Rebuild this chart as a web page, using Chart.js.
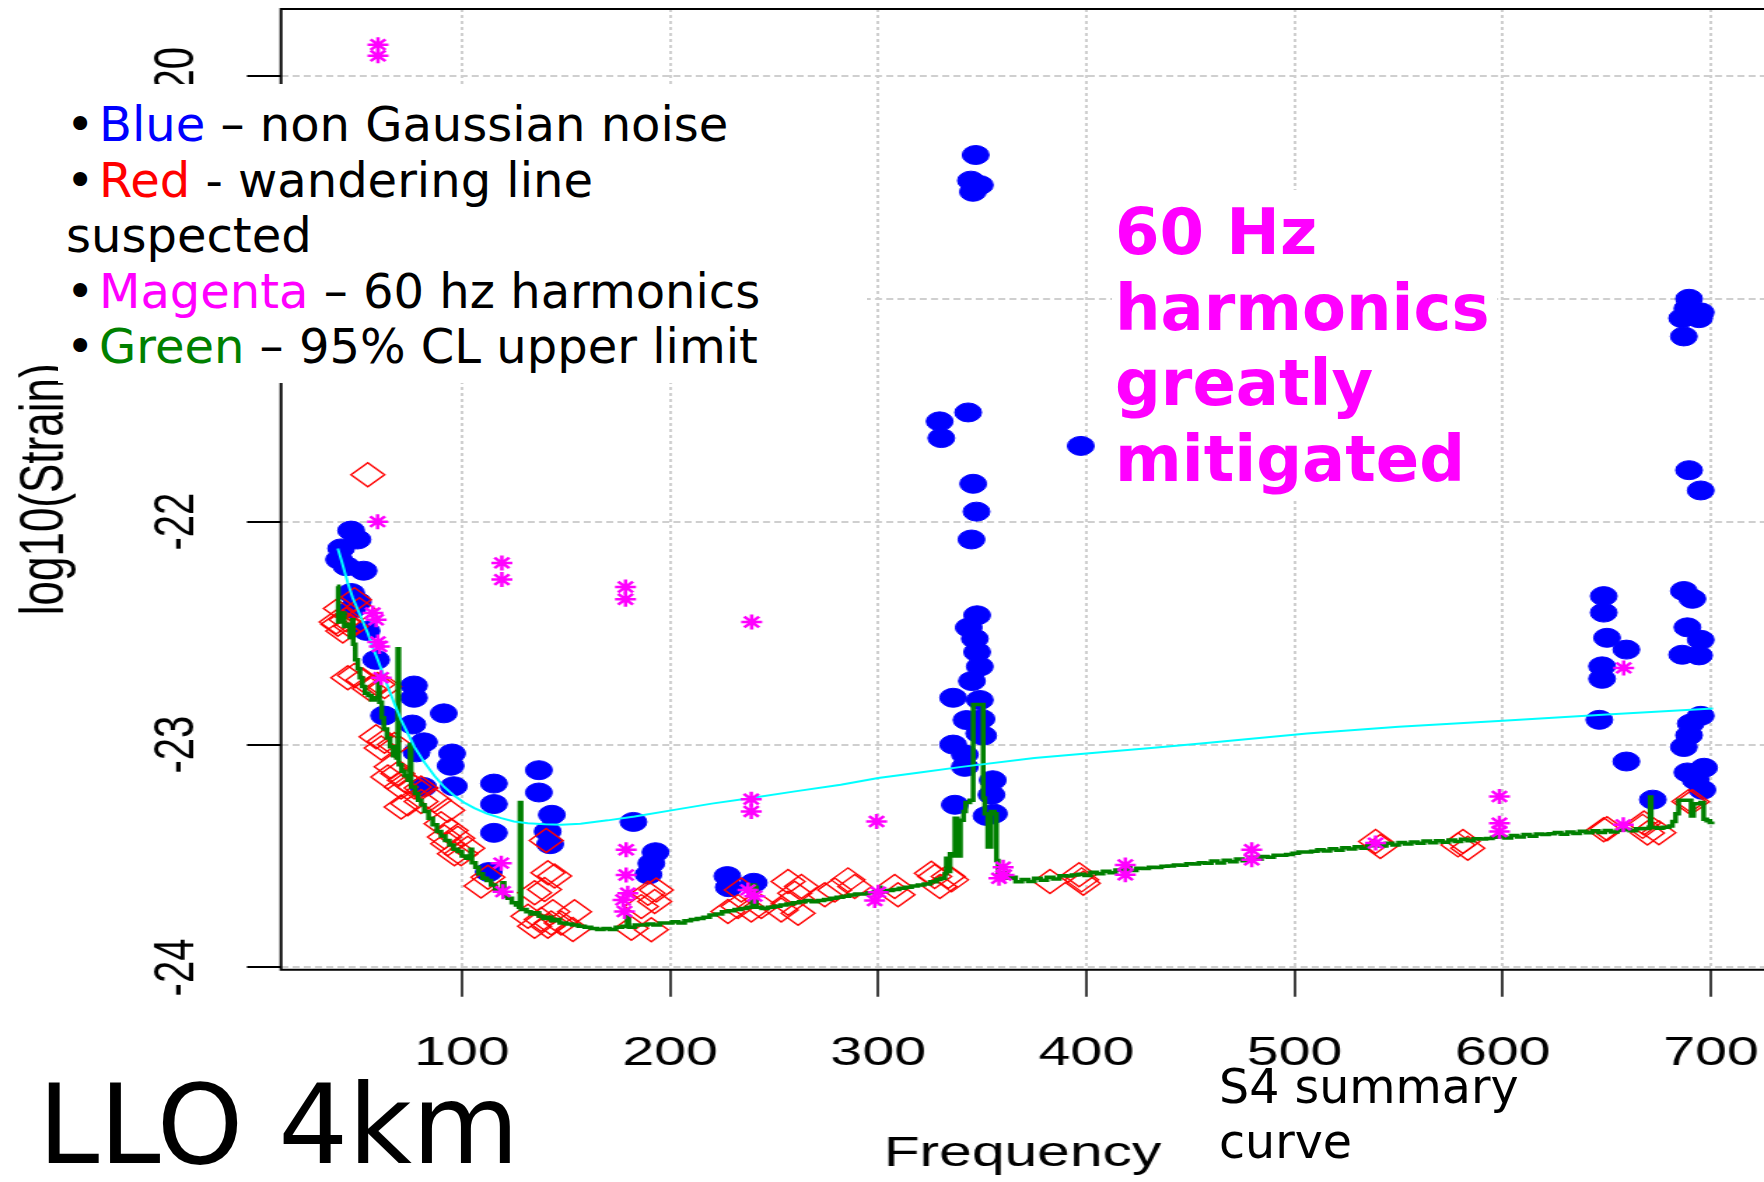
<!DOCTYPE html>
<html>
<head>
<meta charset="utf-8">
<script src="https://cdn.jsdelivr.net/npm/chart.js@4.4.1/dist/chart.umd.min.js"></script>
<style>
    html, body { margin: 0; padding: 0; background: #fff; }
    body { position: relative; width: 1764px; height: 1182px; overflow: hidden; font-family: "DejaVu Sans", sans-serif; }
    /* the R plot looks stretched sideways, so the canvas is drawn narrow and scaled */
    #wrap { position: absolute; left: 0; top: 0; width: 1260px; height: 1182px; transform: scaleX(1.4); transform-origin: 0 0; }
    .nota { position: absolute; background: #fff; box-sizing: border-box; white-space: nowrap; }
    #legenda { left: 58px; top: 84px; width: 809px; height: 299px; padding: 13px 0 0 8px; font-size: 48px; line-height: 55.5px; color: #000; }
    #legenda .b { display: inline-block; width: 33px; }
    #hz60 { left: 1112px; top: 190px; width: 385px; height: 309px; padding: 5px 0 0 3px; font-size: 64px; line-height: 75.5px; font-weight: bold; color: #ff00ff; }
    #llo { position: absolute; left: 38px; top: 1070px; font-size: 110px; line-height: 110px; color: #000; }
    #s4 { position: absolute; left: 1219px; top: 1059px; font-size: 47.5px; line-height: 55px; color: #000; }
</style>
</head>
<body>
<div id="wrap"><canvas id="grafico" width="1260" height="1182"></canvas></div>

<div id="legenda" class="nota">
    <div><span class="b">•</span><span style="color:#0000ff">Blue</span> – non Gaussian noise</div>
    <div><span class="b">•</span><span style="color:#ff0000">Red</span> - wandering line</div>
    <div>suspected</div>
    <div><span class="b">•</span><span style="color:#ff00ff">Magenta</span> – 60 hz harmonics</div>
    <div><span class="b">•</span><span style="color:#008000">Green</span> – 95% CL upper limit</div>
</div>
<div id="hz60" class="nota">60 Hz<br>harmonics<br>greatly<br>mitigated</div>
<div id="llo">LLO 4km</div>
<div id="s4">S4 summary<br>curve</div>

<script>
// ==========================================
// LLO 4km - S4 summary curve
// ==========================================

const xTicks = [100, 200, 300, 400, 500, 600, 700];
const yTicks = [-24, -23, -22, -21, -20];

// [Hz, log10(strain)]
const nonGaussian = [
    [46.8, -22.04], [49.8, -22.08], [42.0, -22.12], [41.0, -22.17], [44.5, -22.20], [52.8, -22.22],
    [46.8, -22.32], [50.0, -22.36], [47.5, -22.39], [54.2, -22.49], [58.8, -22.62], [62.6, -22.87],
    [77.0, -22.735], [77.0, -22.79], [76.2, -22.91], [81.8, -22.99], [78.2, -23.035], [81.4, -23.19],
    [91.3, -22.86], [95.3, -23.04], [94.6, -23.095], [96.1, -23.187],
    [115.4, -23.175], [115.4, -23.267], [115.4, -23.396], [112.9, -23.572],
    [137.0, -23.115], [137.0, -23.215], [143.2, -23.315], [141.2, -23.39], [142.4, -23.447],
    [182.4, -23.347], [193.0, -23.483], [191.0, -23.533], [189.6, -23.583],
    [227.5, -23.59], [228.2, -23.64], [240.2, -23.62],
    [346.8, -20.355], [344.5, -20.47], [348.8, -20.49], [345.5, -20.52],
    [329.5, -21.55], [330.3, -21.625], [343.2, -21.51],
    [345.6, -21.83], [347.2, -21.955], [344.8, -22.08], [397.3, -21.66],
    [347.5, -22.42], [343.5, -22.475], [346.4, -22.525], [347.5, -22.585], [348.8, -22.65], [345.0, -22.715],
    [336.0, -22.79], [348.8, -22.80], [342.4, -22.89], [349.6, -22.885], [336.0, -23.0], [350.4, -22.96],
    [348.5, -22.95], [341.6, -23.045], [341.6, -23.1], [355.0, -23.16], [354.4, -23.225], [336.8, -23.27],
    [352.0, -23.32], [355.6, -23.31],
    [689.5, -21.0], [688.7, -21.044], [695.1, -21.061], [694.3, -21.087], [686.2, -21.087], [687.0, -21.169],
    [689.5, -21.769], [695.1, -21.86],
    [648.5, -22.334], [648.5, -22.408], [650.1, -22.521], [659.4, -22.574], [647.7, -22.649], [647.7, -22.705],
    [646.4, -22.889], [659.4, -23.076], [672.1, -23.247],
    [687.0, -22.311], [691.1, -22.346], [688.7, -22.474], [695.1, -22.53], [686.2, -22.597], [694.3, -22.6],
    [695.1, -22.871], [690.3, -22.906], [689.5, -22.958], [687.0, -23.011], [688.7, -23.125], [696.7, -23.104],
    [692.7, -23.16], [695.9, -23.203]
];

const wanderingLines = [
    [54.8, -21.79],
    [41.6, -22.39], [48.4, -22.35], [50.8, -22.395], [40.4, -22.46], [44.4, -22.44], [42.8, -22.49], [46.8, -22.47], [39.6, -22.45],
    [48.4, -22.69], [52.4, -22.71], [45.2, -22.70], [59.6, -22.73], [62.8, -22.74], [55.6, -22.75],
    [58.8, -22.965], [62.8, -22.985], [61.2, -23.015], [67.6, -23.0],
    [66.0, -23.10], [69.2, -23.13], [64.4, -23.145], [72.4, -23.16], [77.2, -23.19], [70.8, -23.19], [80.4, -23.195],
    [74.0, -23.265], [80.4, -23.255], [70.8, -23.28],
    [86.8, -23.25], [93.2, -23.295], [90.0, -23.355], [94.8, -23.385], [98.0, -23.42], [93.2, -23.445],
    [99.6, -23.49], [102.8, -23.465], [91.6, -23.415], [96.4, -23.49],
    [109.2, -23.635], [112.5, -23.595],
    [131.7, -23.77], [134.9, -23.815], [138.1, -23.785], [141.3, -23.815], [140.5, -23.43], [141.3, -23.575], [134.9, -23.665],
    [144.5, -23.59], [139.7, -23.65], [143.7, -23.75], [147.7, -23.80], [154.1, -23.75], [153.3, -23.83], [142.9, -23.80],
    [189.4, -23.667], [193.4, -23.652], [192.6, -23.704], [186.2, -23.727], [191.0, -23.831], [181.4, -23.824],
    [234.2, -23.652], [232.6, -23.727], [227.8, -23.749], [239.0, -23.742], [243.8, -23.727],
    [256.7, -23.614], [259.9, -23.667], [256.7, -23.712], [263.1, -23.637], [253.4, -23.742], [261.5, -23.757],
    [274.3, -23.674], [279.1, -23.652], [285.5, -23.607], [288.7, -23.637], [307.9, -23.637], [309.5, -23.674],
    [325.5, -23.577], [327.1, -23.592], [329.6, -23.637], [333.6, -23.592], [335.2, -23.607],
    [382.5, -23.614], [396.5, -23.584], [397.7, -23.607], [398.5, -23.622],
    [541.2, -23.457], [538.9, -23.435], [580.9, -23.435], [583.2, -23.465], [578.5, -23.45],
    [648.5, -23.382], [650.1, -23.378], [669.5, -23.397], [667.2, -23.367], [667.8, -23.352], [675.0, -23.396],
    [689.4, -23.255], [691.1, -23.256]
];

const harmonics60 = [
    [59.7, -19.86], [59.7, -19.91], [59.5, -22.0],
    [57.2, -22.41], [58.8, -22.44], [59.6, -22.54], [60.4, -22.56], [61.2, -22.70],
    [119.2, -22.185], [119.2, -22.26], [118.9, -23.532], [119.7, -23.66],
    [178.6, -22.293], [178.6, -22.348], [178.9, -23.472], [178.9, -23.585], [179.7, -23.667], [177.4, -23.697], [178.1, -23.749],
    [239.2, -22.45], [239.0, -23.245], [239.0, -23.30], [237.4, -23.652], [240.6, -23.68],
    [299.2, -23.345], [300.0, -23.662], [298.3, -23.70],
    [360.0, -23.55], [358.0, -23.60], [360.4, -23.585],
    [418.7, -23.54], [418.7, -23.584],
    [479.4, -23.472], [479.4, -23.517],
    [538.9, -23.442],
    [598.4, -23.233], [598.4, -23.353], [598.4, -23.39],
    [658.1, -22.656], [657.9, -23.36]
];

const upperLimit95 = [
    [40.0, -22.29], [40.6, -22.45], [42.0, -22.41], [43.5, -22.47], [45.0, -22.46], [46.2, -22.52], [47.3, -22.44],
    [47.8, -22.55], [48.8, -22.62], [50.0, -22.66], [51.0, -22.70], [52.2, -22.74], [53.5, -22.77], [55.0, -22.78],
    [56.5, -22.80], [58.0, -22.79], [59.8, -22.69], [60.4, -22.81], [61.5, -22.88], [62.5, -22.93], [64.0, -22.97],
    [65.5, -23.01], [67.0, -23.05], [68.6, -23.06], [69.2, -22.57], [69.7, -23.09], [71.0, -23.12], [72.5, -23.14],
    [74.0, -23.16], [75.1, -23.00], [75.6, -23.19], [77.5, -23.22], [79.0, -23.25], [80.5, -23.27], [82.0, -23.30],
    [84.0, -23.33], [86.0, -23.36], [88.0, -23.39], [90.0, -23.41], [92.0, -23.43], [94.0, -23.45], [96.0, -23.47],
    [98.0, -23.48], [100.0, -23.50], [102.0, -23.51], [104.2, -23.47], [104.8, -23.53], [106.5, -23.55], [108.0, -23.58],
    [110.0, -23.60], [112.0, -23.61], [114.0, -23.63], [116.0, -23.65], [118.0, -23.66], [119.5, -23.62], [120.3, -23.68],
    [122.0, -23.69], [124.0, -23.71], [126.0, -23.72], [127.4, -23.73], [127.9, -23.26], [128.4, -23.74], [131.0, -23.75],
    [133.0, -23.76], [135.0, -23.755], [137.0, -23.77], [139.0, -23.78], [141.0, -23.775], [143.0, -23.79], [145.0, -23.785],
    [147.0, -23.80], [150, -23.805], [153, -23.81], [156, -23.815], [159, -23.82], [162, -23.825], [165, -23.83],
    [168, -23.825], [171, -23.83], [174, -23.82], [177, -23.815], [179.4, -23.77], [180.2, -23.82], [183, -23.81],
    [186, -23.81], [189, -23.805], [192, -23.81], [195, -23.80], [198, -23.80], [201, -23.795], [204, -23.80],
    [207, -23.79], [210, -23.785], [213, -23.78], [216, -23.775], [219, -23.765], [222, -23.76], [225, -23.75],
    [228, -23.745], [231, -23.74], [234, -23.735], [237, -23.73], [239.4, -23.63], [240.6, -23.64], [241.5, -23.73],
    [244, -23.735], [247, -23.73], [250, -23.725], [253, -23.72], [256, -23.715], [259, -23.71], [262, -23.705],
    [265, -23.70], [268, -23.705], [271, -23.70], [274, -23.695], [277, -23.69], [280, -23.685], [283, -23.68],
    [286, -23.675], [289, -23.67], [292, -23.67], [295, -23.665], [298, -23.66], [300.3, -23.64], [301, -23.66],
    [304, -23.655], [307, -23.65], [310, -23.645], [313, -23.64], [316, -23.635], [319, -23.63], [322, -23.625],
    [325, -23.615], [328, -23.605], [330, -23.60],
    [332, -23.58], [332.7, -23.51], [334, -23.57], [334.5, -23.49], [336, -23.50], [336.8, -23.33], [338, -23.50],
    [339.5, -23.34], [341, -23.30], [342, -23.26], [344, -23.25], [345.6, -22.82], [350.4, -23.24], [351.2, -23.31],
    [352.6, -23.46], [354.2, -23.30], [355.8, -23.31], [356.8, -23.52], [357.6, -23.59], [360, -23.575], [362, -23.60],
    [364, -23.595], [366, -23.615],
    [369, -23.605], [372, -23.614], [375, -23.600], [378, -23.609], [381, -23.595], [384, -23.603], [387, -23.589],
    [390, -23.590], [393, -23.585], [396, -23.582], [399, -23.587], [402, -23.573], [405, -23.580], [408, -23.568],
    [411, -23.575], [414, -23.563], [417, -23.561], [419.5, -23.545], [421, -23.565], [424, -23.555], [427, -23.556],
    [430, -23.550], [433, -23.552], [436, -23.546], [439, -23.545], [442, -23.540], [445, -23.541], [448, -23.535],
    [451, -23.536], [454, -23.530], [457, -23.532], [460, -23.522], [463, -23.531], [466, -23.519], [469, -23.526],
    [472, -23.513], [475, -23.521], [478, -23.505], [481, -23.514], [484, -23.502], [487, -23.505], [490, -23.496],
    [493, -23.496], [496, -23.493], [499, -23.488], [502, -23.482], [505, -23.482], [508, -23.479], [511, -23.472],
    [514, -23.478], [517, -23.467], [520, -23.474], [523, -23.463], [526, -23.469], [529, -23.458], [532, -23.465],
    [535, -23.454], [538, -23.448], [541, -23.455], [544, -23.443], [547, -23.450], [550, -23.439], [553, -23.446],
    [556, -23.437], [559, -23.443], [562, -23.433], [565, -23.440], [568, -23.431], [571, -23.438], [574, -23.428],
    [577, -23.435], [580, -23.425], [583, -23.432], [586, -23.422], [589, -23.424], [592, -23.421], [595, -23.416],
    [598, -23.413], [601, -23.419], [604, -23.408], [607, -23.415], [610, -23.404], [613, -23.411], [616, -23.401],
    [619, -23.403], [622, -23.400], [625, -23.395], [628, -23.402], [631, -23.392], [634, -23.399], [637, -23.389],
    [640, -23.396], [643, -23.387], [646, -23.394], [649, -23.386], [652, -23.392], [655, -23.384], [658, -23.381],
    [661, -23.387], [664, -23.378], [667, -23.376], [670.3, -23.370], [670.8, -23.235], [671.3, -23.372], [674, -23.375],
    [677, -23.371], [680, -23.365], [681.5, -23.345], [683, -23.31], [684.5, -23.25], [690.5, -23.32], [691.7, -23.265],
    [695, -23.26], [696.5, -23.335], [698, -23.342], [699.5, -23.350], [700.5, -23.345]
];

const summaryCurve = [
    [40.4, -22.12], [42, -22.17], [45.2, -22.275], [47.5, -22.34], [50, -22.395], [52.5, -22.45], [54.8, -22.50],
    [57, -22.56], [59.6, -22.62], [62, -22.68], [64.4, -22.74], [67.5, -22.815], [70.8, -22.89], [74, -22.95],
    [77.2, -23.01], [82, -23.08], [86.8, -23.14], [91.5, -23.19], [96.4, -23.23], [101, -23.26], [106, -23.285],
    [112, -23.31], [118.9, -23.33], [125, -23.345], [131.7, -23.353], [140, -23.358], [147.7, -23.36], [157, -23.355],
    [170, -23.34], [183, -23.323], [202, -23.293], [220, -23.265], [239, -23.24], [260, -23.21], [282, -23.18],
    [300, -23.15], [320, -23.125], [340, -23.10], [375, -23.06], [400, -23.04], [431, -23.015], [455, -22.995],
    [506, -22.95], [550, -22.92], [600, -22.893], [650, -22.865], [701, -22.838]
];

// ---------- helpers ----------
const xy = pares => pares.map(p => ({ x: p[0], y: p[1] }));

Chart.defaults.font.family = '"Liberation Sans", Arial, sans-serif';
Chart.defaults.color = "#000";

// plot box: left, bottom and top sides, solid black
const caixaPlot = {
    id: "caixaPlot",
    afterDraw(chart) {
        const { ctx, chartArea: a } = chart;
        ctx.save();
        ctx.setLineDash([]);
        ctx.strokeStyle = "#000";
        ctx.lineWidth = 2;
        ctx.beginPath();
        ctx.moveTo(a.right, a.top);
        ctx.lineTo(a.left, a.top);
        ctx.lineTo(a.left, a.bottom);
        ctx.lineTo(a.right, a.bottom);
        ctx.stroke();
        ctx.restore();
    }
};

new Chart(document.getElementById("grafico"), {
    type: "scatter",
    data: {
        datasets: [
            {
                label: "60 Hz harmonics",
                data: xy(harmonics60),
                pointStyle: "star", pointRadius: 7.5,
                borderColor: "#ff00ff", backgroundColor: "#ff00ff", borderWidth: 2.5,
                order: 1
            },
            {
                label: "S4 summary curve",
                data: xy(summaryCurve),
                showLine: true, pointRadius: 0,
                borderColor: "#00ffff", borderWidth: 2,
                order: 2
            },
            {
                label: "95% CL upper limit",
                data: xy(upperLimit95),
                showLine: true, stepped: true, pointRadius: 0,
                borderColor: "#008000", borderWidth: 3.5,
                order: 3
            },
            {
                label: "wandering line",
                data: xy(wanderingLines),
                pointStyle: "rectRot", pointRadius: 12,
                borderColor: "#ff0000", backgroundColor: "rgba(0,0,0,0)", borderWidth: 1.4,
                order: 4
            },
            {
                label: "non Gaussian noise",
                data: xy(nonGaussian),
                pointStyle: "circle", pointRadius: 9.5,
                borderColor: "#0000ff", backgroundColor: "#0000ff", borderWidth: 1,
                order: 5
            }
        ]
    },
    options: {
        responsive: false,
        animation: false,
        events: [],
        layout: { autoPadding: false, padding: { top: 9, left: 0, right: 0, bottom: 0 } },
        plugins: { legend: { display: false }, tooltip: { enabled: false } },
        scales: {
            x: {
                type: "linear", min: 13.1, max: 725.5,
                afterBuildTicks: s => { s.ticks = xTicks.map(v => ({ value: v })); },
                afterFit: s => { s.height = 212.3; s.paddingLeft = 0; s.paddingRight = 0; },
                grid: {
                    color: "#cfcfcf", lineWidth: 2,
                    tickColor: "#000", tickWidth: 1.5, tickLength: 27, tickBorderDash: []
                },
                border: { display: false, dash: [3, 3] },
                ticks: { font: { size: 41 }, padding: 32, maxRotation: 0, autoSkip: false },
                title: { display: true, text: "Frequency", font: { size: 42 }, padding: { top: 0, bottom: 2 } }
            },
            y: {
                type: "linear", min: -24.01, max: -19.70,
                afterBuildTicks: s => { s.ticks = yTicks.map(v => ({ value: v })); },
                afterFit: s => { s.width = 200.7; s.paddingTop = 0; s.paddingBottom = 0; },
                grid: {
                    color: "#cfcfcf", lineWidth: 2,
                    tickColor: "#000", tickWidth: 2, tickLength: 24.3, tickBorderDash: []
                },
                border: { display: false, dash: [5, 3] },
                ticks: { font: { size: 40 }, minRotation: 90, maxRotation: 90, crossAlign: "center", padding: 21 },
                title: { display: true, text: "log10(Strain)", font: { size: 44, lineHeight: 1.1 }, padding: { top: 9, bottom: 0 } }
            }
        }
    },
    plugins: [caixaPlot]
});
</script>
</body>
</html>
